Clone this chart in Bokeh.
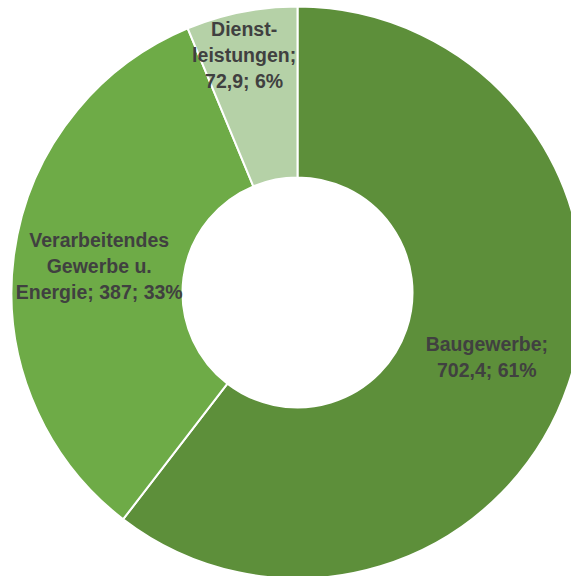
import numpy as np
from bokeh.plotting import figure
from bokeh.models import ColumnDataSource, Range1d
from bokeh.core.properties import value
from bokeh.embed import file_html
from bokeh.resources import INLINE

# ---- data ----
categories = ["Baugewerbe", "Verarbeitendes Gewerbe u. Energie", "Dienstleistungen"]
values = [702.4, 387.0, 72.9]
label_texts = ["Baugewerbe;\n702,4; 61%",
               "Verarbeitendes\nGewerbe u.\nEnergie; 387; 33%",
               "Dienst-\nleistungen;\n72,9; 6%"]
colors = ["#5D8F3A", "#6EAB47", "#B5D1A7"]

# ---- layout ----
W, H = 571, 576
cx, cy = 297, H - 292          # donut centre in pixel-like data units
r_out, r_in = 286, 115
label_r = [200, 200, 242]

vals = np.array(values)
frac = vals / vals.sum()
cum = np.concatenate([[0], np.cumsum(frac)])
start = np.pi / 2 - cum[:-1] * 2 * np.pi
end = np.pi / 2 - cum[1:] * 2 * np.pi
mid = (start + end) / 2
lx = cx + np.array(label_r) * np.cos(mid)
ly = cy + np.array(label_r) * np.sin(mid)
lx[2] -= 6

src = ColumnDataSource(dict(start=start, end=end, color=colors,
                            lx=lx, ly=ly, label=label_texts))

p = figure(width=W, height=H, output_backend="svg", toolbar_location=None,
           x_range=Range1d(0, W), y_range=Range1d(0, H),
           min_border=0, outline_line_color=None)
p.axis.visible = False
p.grid.visible = False
p.background_fill_color = "white"
p.border_fill_color = "white"

p.annular_wedge(x=cx, y=cy, inner_radius=r_in, outer_radius=r_out,
                start_angle="start", end_angle="end", direction="clock",
                fill_color="color", line_color="white", line_width=2,
                source=src)

p.text(x="lx", y="ly", text="label", source=src,
       text_align="center", text_baseline="middle",
       text_font=value("Liberation Sans"), text_font_style="bold",
       text_font_size="19.5px", text_color="#404040", text_line_height=1.18)

open("out.html", "w").write(file_html(p, INLINE))
